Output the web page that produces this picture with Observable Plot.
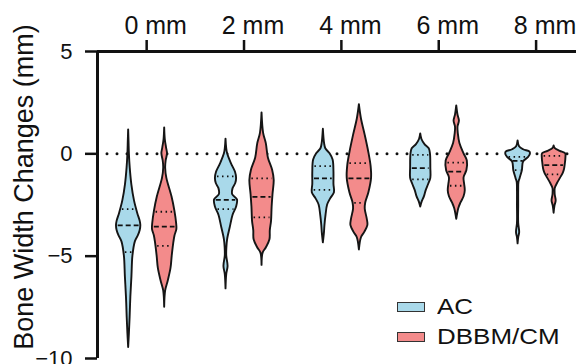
<!DOCTYPE html>
<html><head><meta charset="utf-8">
<script src="https://cdn.jsdelivr.net/npm/d3@7"></script>
<script src="https://cdn.jsdelivr.net/npm/@observablehq/plot@0.6"></script>
<style>
body{margin:0;background:#fff;font-family:"Liberation Sans",Arial,sans-serif;}
#wrap{position:relative;width:576px;height:364px;overflow:hidden;}
.legend{position:absolute;left:397px;top:292px;font-size:22px;color:#111;}
.legend .row{display:flex;align-items:center;height:30px;}
.legend .lbl{display:inline-block;transform:scaleX(1.18);transform-origin:left center;}
.sw{width:26px;height:8px;border:1.6px solid #333;margin-right:12px;}
</style></head><body><div id="wrap"></div>
<script>
const groups = [0, 2, 4, 6, 8];
const groupLabels = ["0 mm", "2 mm", "4 mm", "6 mm", "8 mm"];
const seriesNames = ["AC", "DBBM/CM"];
const yTicks = [5, 0, -5, -10];
const yLabel = "Bone Width Changes (mm)";

// violin outlines: [value (mm), relative density]
const acProfiles = [
  [[1.17,0],[0.6,0.03],[0,0.06],[-0.7,0.13],[-1.5,0.26],[-2.3,0.48],[-2.9,0.74],[-3.3,0.95],[-3.5,1.0],[-3.75,0.95],[-4.0,0.8],[-4.3,0.55],[-5,0.35],[-6,0.27],[-7,0.18],[-8,0.12],[-8.8,0.06],[-9.46,0]],
  [[0.72,0],[0.3,0.05],[0,0.13],[-0.5,0.46],[-0.9,0.78],[-1.2,0.87],[-1.45,0.8],[-1.7,0.58],[-2.0,0.55],[-2.25,0.94],[-2.6,0.87],[-3.0,0.58],[-3.6,0.35],[-4.2,0.13],[-4.6,0.07],[-5.0,0.06],[-5.5,0.17],[-5.9,0.06],[-6.6,0]],
  [[1.2,0],[0.5,0.1],[0.25,0.2],[0,0.55],[-0.3,0.8],[-0.9,0.87],[-1.5,0.87],[-1.9,0.91],[-2.2,0.6],[-2.5,0.35],[-3.0,0.22],[-3.5,0.13],[-3.85,0.09],[-4.35,0]],
  [[0.97,0],[0.7,0.1],[0.45,0.35],[0.25,0.7],[0,0.8],[-0.7,0.83],[-1.2,0.83],[-1.5,0.65],[-1.8,0.45],[-2.1,0.3],[-2.35,0.12],[-2.6,0]],
  [[0.63,0],[0.35,0.12],[0.2,0.45],[0.08,0.98],[-0.05,1.0],[-0.2,0.82],[-0.4,0.45],[-0.83,0.35],[-1.2,0.17],[-1.4,0.07],[-1.8,0.05],[-2.5,0.05],[-3.4,0.05],[-3.85,0.13],[-4.1,0.05],[-4.4,0]]
];
const dbProfiles = [
  [[1.27,0],[0.7,0.05],[0.3,0.15],[0,0.23],[-0.35,0.12],[-0.7,0.08],[-1.2,0.18],[-2.1,0.6],[-2.8,0.84],[-3.4,0.98],[-3.7,1.0],[-4.0,0.85],[-4.4,0.74],[-5.0,0.62],[-5.6,0.52],[-6.2,0.3],[-6.7,0.08],[-7.5,0]],
  [[2.0,0],[1.0,0.13],[0.5,0.35],[-0.2,0.52],[-0.8,0.87],[-1.3,1.0],[-2.0,0.9],[-2.6,0.83],[-3.3,0.78],[-3.75,0.68],[-4.2,0.65],[-4.6,0.35],[-4.85,0.09],[-5.45,0]],
  [[2.4,0],[1.7,0.17],[0.9,0.48],[0.05,0.78],[-0.6,0.96],[-1.2,1.0],[-1.9,0.78],[-2.4,0.52],[-2.7,0.48],[-3.2,0.65],[-3.5,0.7],[-3.85,0.43],[-4.1,0.17],[-4.7,0]],
  [[2.34,0],[1.9,0.1],[1.6,0.22],[1.3,0.1],[0.97,0.13],[0.5,0.26],[0,0.6],[-0.35,0.87],[-0.83,0.83],[-1.17,0.6],[-1.5,0.65],[-1.8,0.7],[-2.1,0.6],[-2.4,0.35],[-2.67,0.17],[-3.2,0]],
  [[0.39,0],[0.25,0.1],[0.12,0.5],[0,0.95],[-0.2,0.97],[-0.5,0.92],[-0.75,0.86],[-0.95,0.75],[-1.2,0.52],[-1.45,0.28],[-1.7,0.09],[-2.0,0.09],[-2.3,0.17],[-2.55,0.07],[-2.9,0]]
];
// [upper quartile, median, lower quartile]
const acQuartiles = [[-2.7,-3.5,-4.8],[-1.1,-2.25,-2.7],[-0.6,-1.2,-1.76],[-0.05,-0.7,-1.25],[-0.15,-0.34,-0.8]];
const dbQuartiles = [[-2.83,-3.56,-4.5],[-1.2,-2.1,-3.1],[-0.45,-1.2,-2.4],[-0.43,-0.87,-1.56],[-0.1,-0.55,-1.0]];

const xDomain = [-1.01, 8.83];
const seriesShift = 0.37, maxHalf = 0.25;
const center = (gi, si) => groups[gi] + (si === 0 ? -seriesShift : seriesShift);

function widthAt(profile, v) {
  for (let k = 0; k < profile.length - 1; k++) {
    const [a, wa] = profile[k], [b, wb] = profile[k + 1];
    if (v <= a && v >= b) return wa + (wb - wa) * (a - v) / (a - b);
  }
  return 0;
}

const rows = [], qRows = [];
[acProfiles, dbProfiles].forEach((profs, si) => {
  const quarts = si === 0 ? acQuartiles : dbQuartiles;
  profs.forEach((prof, gi) => {
    const c = center(gi, si);
    prof.forEach(([v, w]) => rows.push({key: si + "-" + gi, series: seriesNames[si], v, x1: c - w * maxHalf, x2: c + w * maxHalf}));
    quarts[gi].forEach((v, qi) => {
      const hw = Math.max(0, widthAt(prof, v) * maxHalf - 0.035);
      qRows.push({v, kind: qi === 1 ? "median" : "quartile", x1: c - hw, x2: c + hw});
    });
  });
});

const plot = Plot.plot({
  width: 576, height: 372,
  marginLeft: 97, marginRight: 0, marginTop: 51, marginBottom: 14,
  x: {domain: xDomain},
  y: {domain: [-10, 5]},
  color: {domain: seriesNames, range: ["#a9d9ea", "#f38b8b"]},
  style: {fontFamily: "'Liberation Sans', Arial, sans-serif", color: "#111", background: "white", overflow: "visible"},
  marks: [
    Plot.ruleY([0], {stroke: "#111", strokeWidth: 3, strokeDasharray: "0,10", strokeLinecap: "round", insetLeft: 10}),
    Plot.areaX(rows, {y: "v", x1: "x1", x2: "x2", z: "key", fill: "series", stroke: "#151515", strokeWidth: 1.9, curve: "catmull-rom"}),
    Plot.ruleY(qRows.filter(d => d.kind === "median"), {y: "v", x1: "x1", x2: "x2", stroke: "#111", strokeWidth: 1.8, strokeDasharray: "5,3"}),
    Plot.ruleY(qRows.filter(d => d.kind === "quartile"), {y: "v", x1: "x1", x2: "x2", stroke: "#111", strokeWidth: 1.8, strokeDasharray: "1.5,3.5"}),
    Plot.axisY({ticks: yTicks, tickSize: 12, tickPadding: 13, fontSize: 22, strokeWidth: 2.5, label: null}),
    Plot.axisX({anchor: "top", ticks: groups, tickFormat: () => "", tickSize: 12, strokeWidth: 2.5, label: null}),
    Plot.text(groups, {x: d => d, text: d => groupLabels[groups.indexOf(d)], frameAnchor: "top", lineAnchor: "bottom", dy: -18, dx: 9, fontSize: 25, fill: "#111"}),
    Plot.ruleX([xDomain[0]], {stroke: "#111", strokeWidth: 3}),
    Plot.ruleY([5], {stroke: "#111", strokeWidth: 3}),
    Plot.text([yLabel], {frameAnchor: "left", rotate: -90, dx: -73, dy: -18, fontSize: 27, textAnchor: "middle", fill: "#111"})
  ]
});
const wrap = document.getElementById("wrap");
wrap.appendChild(plot);
const legend = document.createElement("div");
legend.className = "legend";
const colors = ["#a9d9ea", "#f38b8b"];
seriesNames.forEach((s, i) => {
  const row = document.createElement("div");
  row.className = "row";
  const sw = document.createElement("span");
  sw.className = "sw";
  sw.style.background = colors[i];
  const t = document.createElement("span");
  t.className = "lbl";
  t.textContent = s;
  row.appendChild(sw); row.appendChild(t);
  legend.appendChild(row);
});
wrap.appendChild(legend);
</script></body></html>
